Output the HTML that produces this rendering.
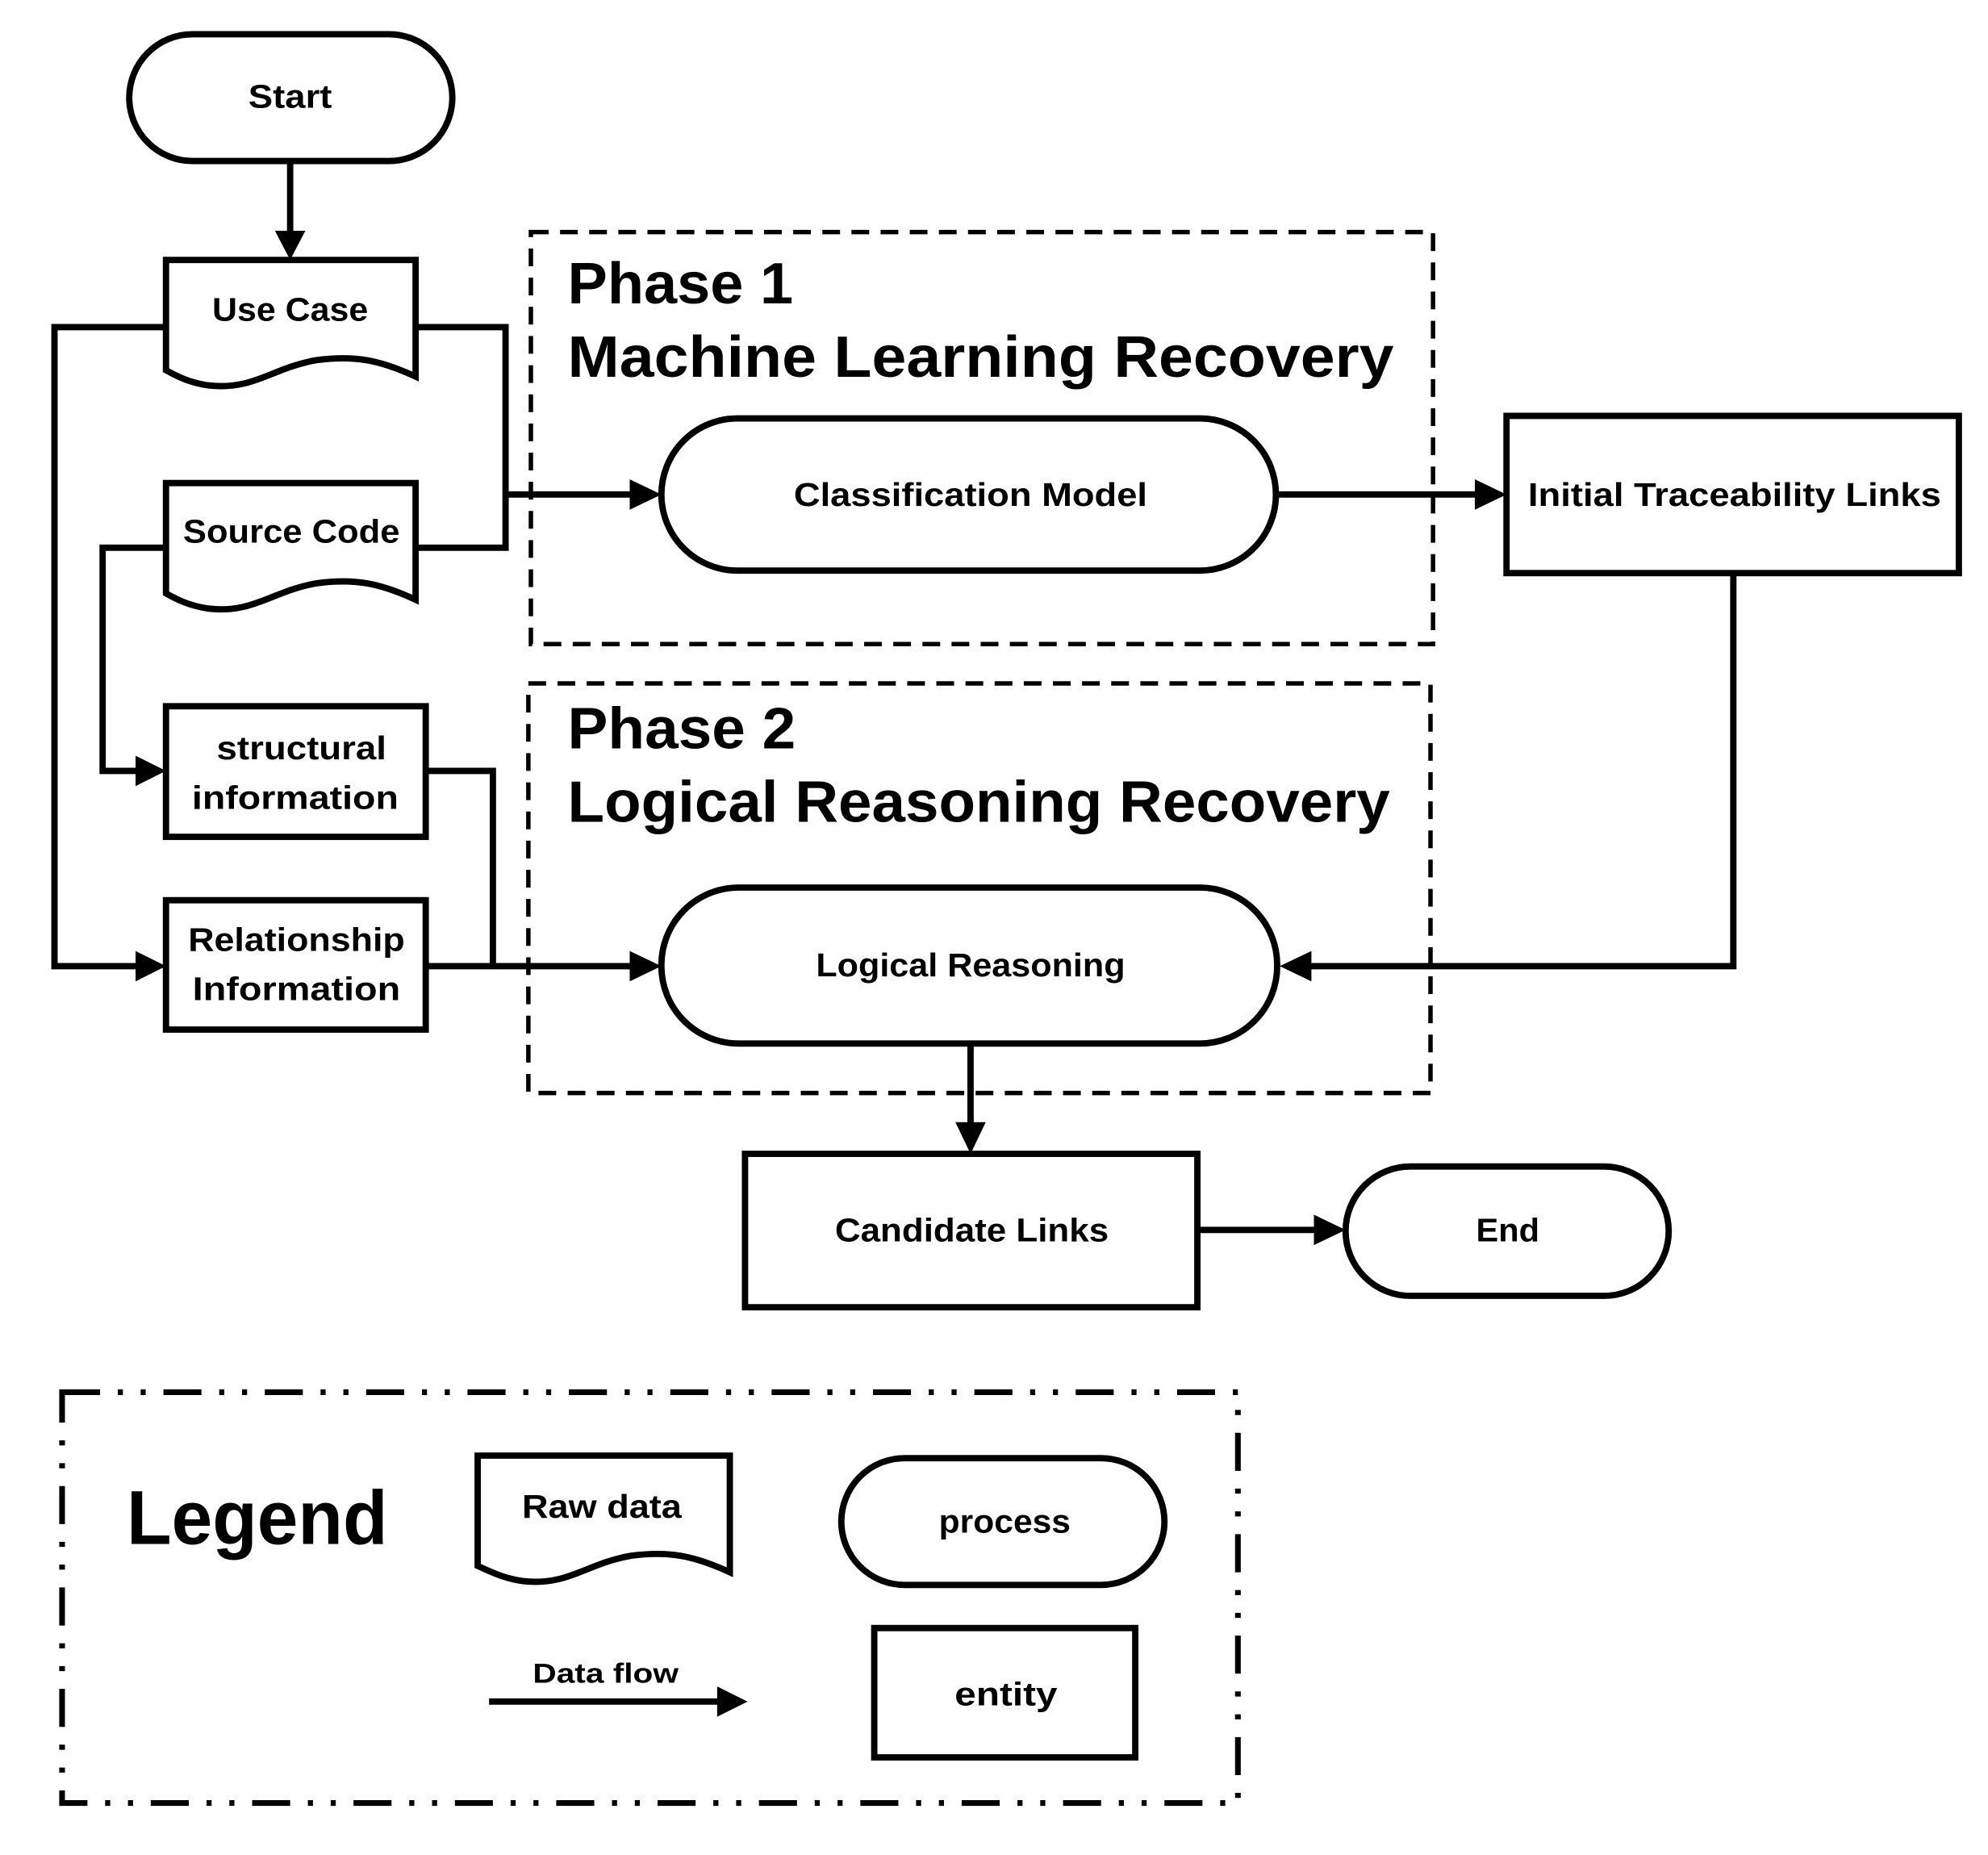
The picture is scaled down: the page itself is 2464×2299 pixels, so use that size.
<!DOCTYPE html>
<html><head><meta charset="utf-8"><style>
html,body{margin:0;padding:0;background:#fff;}
svg{display:block;}
text{font-family:"Liberation Sans",sans-serif;fill:#000;dominant-baseline:central;}
.l{font-size:26px;font-weight:bold;text-anchor:middle;}
.t{font-size:46px;font-weight:bold;}
</style></head><body>
<svg width="2464" height="2299" viewBox="0 0 1569 1463" preserveAspectRatio="none" xmlns="http://www.w3.org/2000/svg">
<g fill="none" stroke="#000" stroke-width="5">
<rect x="102" y="27" width="255" height="100" rx="50"/>
<line x1="229" y1="127" x2="229" y2="185"/>
<path d="M131,205 H328 V297 C300,284 280,280 250,284 C215,290 200,308 165,304 C150,302 140,297 131,292 Z"/>
<path d="M131,381 H328 V473 C300,460 280,456 250,460 C215,466 200,484 165,480 C150,478 140,473 131,468 Z"/>
<rect x="131" y="557" width="205" height="103"/>
<rect x="131" y="710" width="205" height="102"/>
<polyline points="131,258 43,258 43,762 110,762"/>
<polyline points="328,258 399,258 399,432 328,432"/>
<line x1="399" y1="390" x2="500" y2="390"/>
<polyline points="131,432 81,432 81,608 110,608"/>
<polyline points="336,608 389,608 389,762"/>
<line x1="336" y1="762" x2="500" y2="762"/>
<rect x="419" y="183" width="712" height="325" stroke-width="3.5" stroke-dasharray="14,9"/>
<rect x="417" y="539" width="712" height="323" stroke-width="3.5" stroke-dasharray="14,9"/>
<rect x="522" y="330" width="485" height="120" rx="60"/>
<line x1="1007" y1="390" x2="1168" y2="390"/>
<rect x="1189" y="328" width="357" height="124"/>
<polyline points="1368,452 1368,762 1032,762"/>
<rect x="522" y="700" width="486" height="123" rx="61"/>
<line x1="766" y1="823" x2="766" y2="888"/>
<rect x="588" y="910" width="357" height="121"/>
<line x1="945" y1="970" x2="1040" y2="970"/>
<rect x="1062" y="920" width="255" height="102" rx="51"/>
<rect x="49" y="1098" width="928" height="324" stroke-width="4.5" stroke-dasharray="30,14,4,14,4,14"/>
<path d="M377,1148 H576 V1240 C548,1227 528,1223 498,1227 C463,1233 448,1251 413,1247 C398,1245 388,1240 377,1235 Z"/>
<rect x="664" y="1150" width="255" height="100" rx="50"/>
<line x1="386" y1="1342" x2="570" y2="1342"/>
<rect x="690" y="1284" width="206" height="102"/>
</g>
<g fill="#000">
<polygon points="217,182 241,182 229,205"/>
<polygon points="107,750 107,774 131,762"/>
<polygon points="107,596 107,620 131,608"/>
<polygon points="497,378 497,402 522,390"/>
<polygon points="497,750 497,774 522,762"/>
<polygon points="1164,378 1164,402 1189,390"/>
<polygon points="1035,750 1035,774 1010,762"/>
<polygon points="754,885 778,885 766,910"/>
<polygon points="1037,958 1037,982 1062,970"/>
<polygon points="566,1330 566,1354 590,1342"/>
</g>
<text class="l" x="229" y="76" textLength="66" lengthAdjust="spacingAndGlyphs">Start</text>
<text class="l" x="229" y="244" textLength="123" lengthAdjust="spacingAndGlyphs">Use Case</text>
<text class="l" x="230" y="419" textLength="171" lengthAdjust="spacingAndGlyphs">Source Code</text>
<text class="l" x="238" y="590" textLength="134" lengthAdjust="spacingAndGlyphs">structural</text>
<text class="l" x="233" y="629" textLength="163" lengthAdjust="spacingAndGlyphs">information</text>
<text class="l" x="234" y="741" textLength="171" lengthAdjust="spacingAndGlyphs">Relationship</text>
<text class="l" x="234" y="780" textLength="164" lengthAdjust="spacingAndGlyphs">Information</text>
<text class="l" x="766" y="390" textLength="279" lengthAdjust="spacingAndGlyphs">Classification Model</text>
<text class="l" x="1369" y="390" textLength="326" lengthAdjust="spacingAndGlyphs">Initial Traceability Links</text>
<text class="l" x="766" y="761" textLength="244" lengthAdjust="spacingAndGlyphs">Logical Reasoning</text>
<text class="l" x="767" y="970" textLength="216" lengthAdjust="spacingAndGlyphs">Candidate Links</text>
<text class="l" x="1190" y="970" textLength="50" lengthAdjust="spacingAndGlyphs">End</text>
<text class="t" x="448" y="224" textLength="178" lengthAdjust="spacingAndGlyphs">Phase 1</text>
<text class="t" x="448" y="282" textLength="652" lengthAdjust="spacingAndGlyphs">Machine Learning Recovery</text>
<text class="t" x="448" y="575" textLength="180" lengthAdjust="spacingAndGlyphs">Phase 2</text>
<text class="t" x="448" y="633" textLength="649" lengthAdjust="spacingAndGlyphs">Logical Reasoning Recovery</text>
<text x="100" y="1197" style="font-size:60px;font-weight:bold" textLength="206" lengthAdjust="spacingAndGlyphs">Legend</text>
<text class="l" x="475" y="1188" textLength="126" lengthAdjust="spacingAndGlyphs">Raw data</text>
<text class="l" x="793" y="1200" textLength="104" lengthAdjust="spacingAndGlyphs">process</text>
<text class="l" x="478" y="1320" style="font-size:22px" textLength="115" lengthAdjust="spacingAndGlyphs">Data flow</text>
<text class="l" x="794" y="1336" textLength="81" lengthAdjust="spacingAndGlyphs">entity</text>
</svg>
</body></html>
